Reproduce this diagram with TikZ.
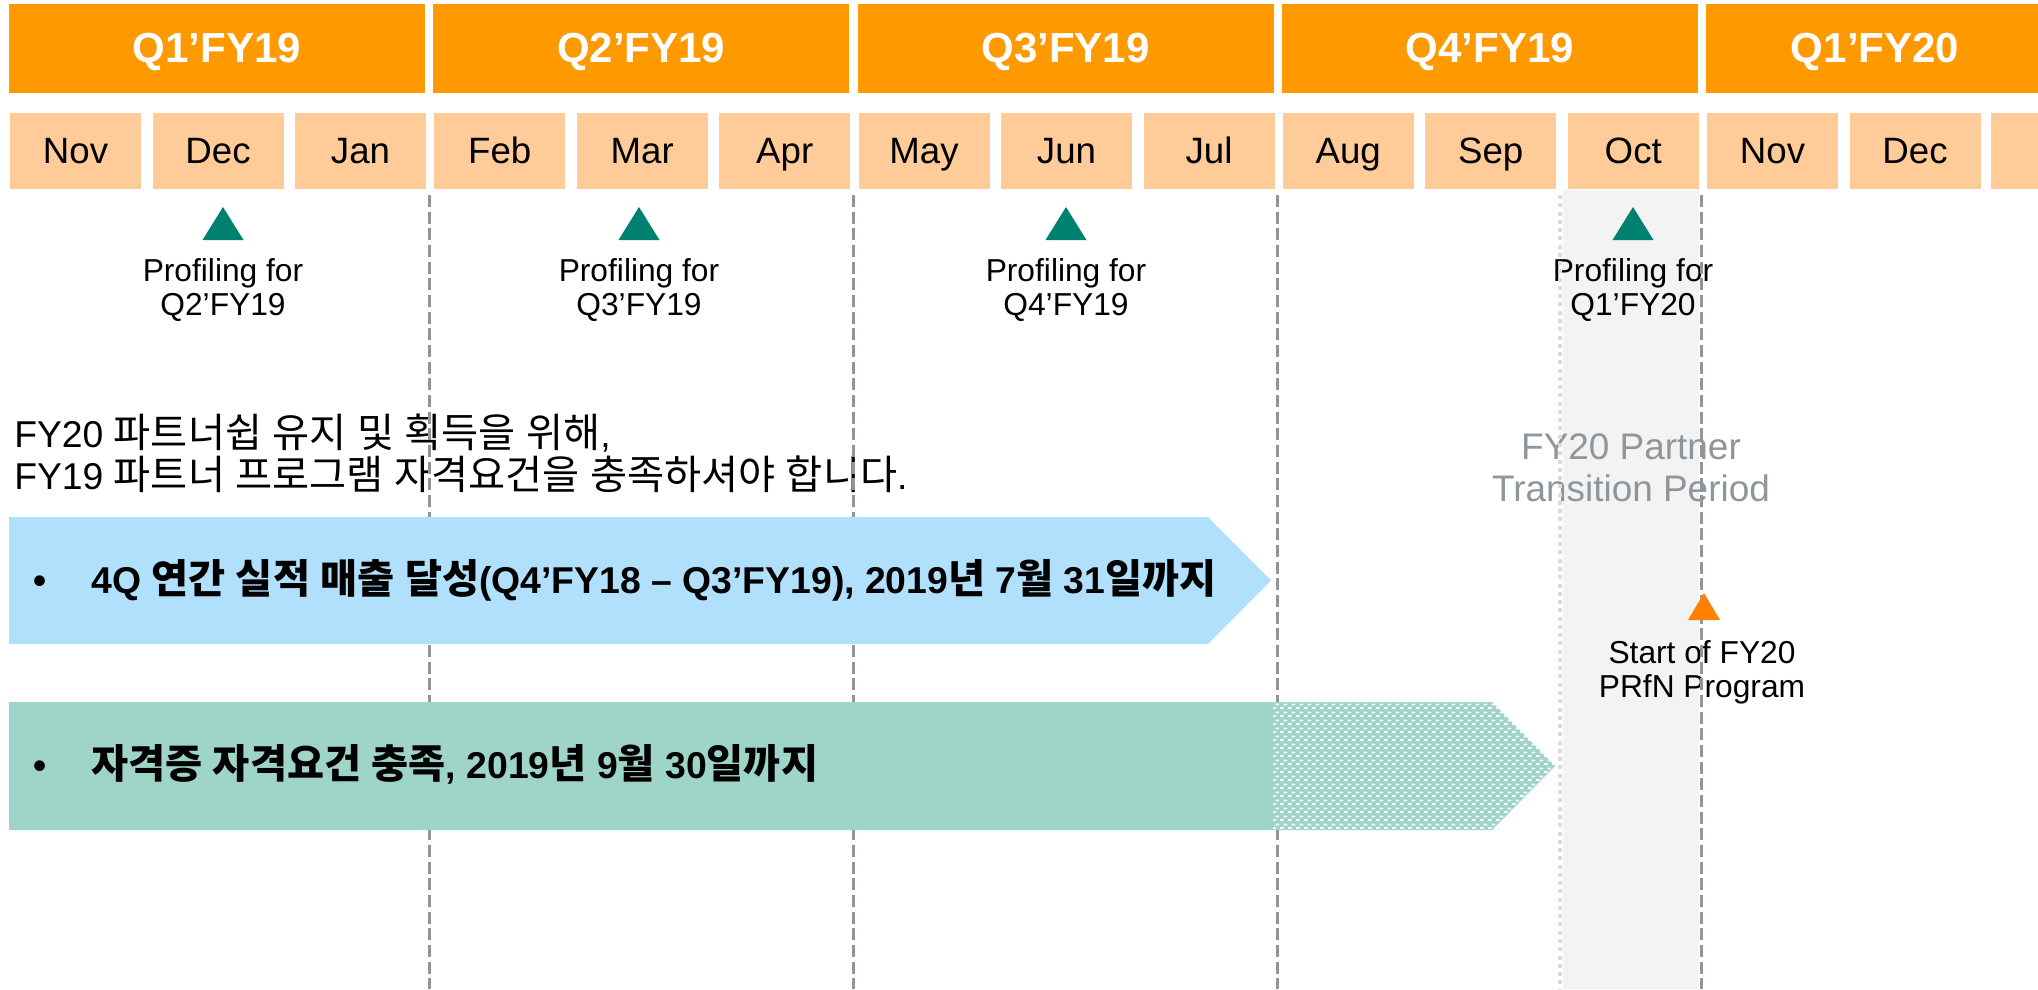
\documentclass[tikz,border=0pt]{standalone}
\usepackage{fontspec}
\setmainfont{Liberation Sans}
\newfontfamily\krfont[Scale=1.08]{Noto Sans CJK KR}
\newcommand\hg[1]{{\krfont #1}}
\usetikzlibrary{patterns}
\pgfdeclarepatternformonly{brickdots}{\pgfpointorigin}{\pgfpoint{6pt}{6pt}}{\pgfpoint{6pt}{6pt}}{%
  \pgfpathrectangle{\pgfpoint{0pt}{0pt}}{\pgfpoint{3pt}{1.5pt}}%
  \pgfpathrectangle{\pgfpoint{3pt}{3pt}}{\pgfpoint{3pt}{1.5pt}}%
  \pgfusepath{fill}}
\definecolor{qorange}{HTML}{FF9900}
\definecolor{mpeach}{HTML}{FFCC99}
\definecolor{bandgray}{HTML}{F3F3F3}
\definecolor{divgray}{HTML}{8F9599}
\definecolor{dotgray}{HTML}{DCDCDC}
\definecolor{profteal}{HTML}{00806F}
\definecolor{startorange}{HTML}{FF8000}
\definecolor{arrowblue}{HTML}{B0E0FC}
\definecolor{arrowgreen}{HTML}{9FD5C8}
\definecolor{transgray}{HTML}{8F969B}
\begin{document}
\begin{tikzpicture}[x=0.75pt,y=-0.75pt,
  qtext/.style={anchor=base, text=white, inner sep=0pt, font=\fontsize{31.5}{36}\selectfont\bfseries},
  mtext/.style={anchor=base, inner sep=0pt, font=\fontsize{27.5}{32}\selectfont},
  ptext/.style={anchor=base, inner sep=0pt, font=\fontsize{23.8}{28}\selectfont},
  ttext/.style={anchor=base, inner sep=0pt, text=transgray, font=\fontsize{27.7}{32}\selectfont},
  krtext/.style={anchor=base west, inner sep=0pt, font=\fontsize{28}{32}\selectfont},
  bartext/.style={anchor=base west, inner sep=0pt, font=\fontsize{28}{32}\selectfont\bfseries},
  bulletmark/.style={anchor=base, inner sep=0pt, font=\fontsize{28}{32}\selectfont\bfseries},
  divline/.style={line width=2.25pt, draw=divgray, dash pattern=on 9pt off 3.5pt},
  dotline/.style={line width=3pt, draw=dotgray, dash pattern=on 3pt off 3.2pt},
  proftri/.style={fill=profteal}]
\useasboundingbox (0,0) rectangle (2038,989);
\clip (0,0) rectangle (2038,989);

% quarter bars
\foreach \q/\lab in {0/{Q1’FY19},1/{Q2’FY19},2/{Q3’FY19},3/{Q4’FY19}} {
  \pgfmathsetmacro\qx{9+424.25*\q}
  \fill[qorange] (\qx,4) rectangle ++(416,89);
  \node[qtext] (quarter\q) at (\qx+208,62) {\lab};
}
\fill[qorange] (1706,4) rectangle (2038,93);
\node[qtext] (quarter4) at (1875,62) {Q1’FY20};

% month boxes
\foreach \m [count=\i from 0] in {Nov,Dec,Jan,Feb,Mar,Apr,May,Jun,Jul,Aug,Sep,Oct,Nov,Dec} {
  \pgfmathsetmacro\mx{10+424.25*floor(\i/3)+142.5*mod(\i,3)}
  \fill[mpeach] (\mx,113) rectangle ++(131,76);
  \node[mtext] (month\i) at (\mx+65.5,163) {\m};
}
\fill[mpeach] (1991,113) rectangle (2038,189);

% transition band
\fill[bandgray] (1563,190) rectangle (1699,989);

% profiling labels
\foreach \k/\cx/\lab in {1/223/{Q2’FY19},2/639/{Q3’FY19},3/1066/{Q4’FY19},4/1633/{Q1’FY20}} {
  \node[ptext] (prof\k a) at (\cx,281) {Profiling for};
  \node[ptext] (prof\k b) at (\cx,315) {\lab};
}

% transition period label
\node[ttext] (trans1) at (1631,459.5) {FY20 Partner};
\node[ttext] (trans2) at (1631,501) {Transition Period};

% start of FY20 label
\node[ptext] (start1) at (1702,663) {Start of FY20};
\node[ptext] (start2) at (1702,697) {PRfN Program};

% Korean heading
\node[krtext] (head1) at (14,447) {FY20 \hg{파트너쉽} \hg{유지} \hg{및} \hg{획득을} \hg{위해},};
\node[krtext] (head2) at (14,489) {FY19 \hg{파트너} \hg{프로그램} \hg{자격요건을} \hg{충족하셔야} \hg{합니다}.};

% divider lines
\draw[dotline] (1560,195) -- (1560,989);
\foreach \lx in {429,853,1277.5,1701.5} {
  \draw[divline] (\lx,195) -- (\lx,989);
}

% triangles
\foreach \cx in {223,639,1066,1633} {
  \fill[proftri] (\cx,207) -- (\cx-20.5,240) -- (\cx+20.5,240) -- cycle;
}
\fill[startorange] (1704,593) -- (1688,620) -- (1720,620) -- cycle;

% blue arrow
\fill[arrowblue] (9,517) -- (1208,517) -- (1271,580.5) -- (1208,644) -- (9,644) -- cycle;
\node[bulletmark] (bullet1) at (40,593) {•};
\node[bartext] (bar1) at (91,593) {4Q \hg{연간} \hg{실적} \hg{매출} \hg{달성}(Q4’FY18 – Q3’FY19), 2019\hg{년} 7\hg{월} 31\hg{일까지}};

% green arrow
\fill[arrowgreen] (9,702) -- (1492,702) -- (1555,766) -- (1492,830) -- (9,830) -- cycle;
\fill[pattern=brickdots, pattern color=white] (1273,702) -- (1492,702) -- (1555,766) -- (1492,830) -- (1273,830) -- cycle;
\node[bulletmark] (bullet2) at (40,778) {•};
\node[bartext] (bar2) at (91,778) {\hg{자격증} \hg{자격요건} \hg{충족}, 2019\hg{년} 9\hg{월} 30\hg{일까지}};
\end{tikzpicture}
\end{document}
